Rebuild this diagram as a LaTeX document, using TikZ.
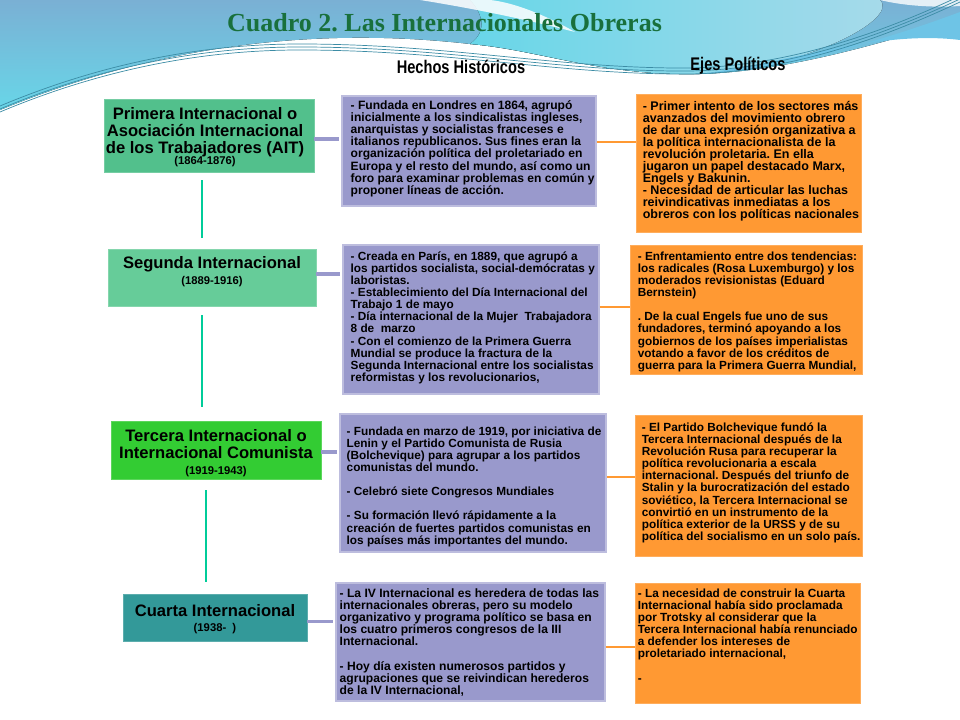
\documentclass[tikz,border=0pt]{standalone}
\usepackage{fontspec}
\setmainfont{Liberation Sans}
\newfontfamily\titlefont{Liberation Serif}
\usetikzlibrary{positioning}
\frenchspacing
\definecolor{primcol}{RGB}{82,192,140}
\definecolor{segcol}{RGB}{102,204,153}
\definecolor{tercol}{RGB}{51,204,51}
\definecolor{cuarcol}{RGB}{51,153,153}
\definecolor{hechocol}{RGB}{153,153,204}
\definecolor{ejecol}{RGB}{255,153,51}
\definecolor{spinecol}{RGB}{0,204,153}
\definecolor{titlecol}{RGB}{25,112,60}
\definecolor{bgsteel}{RGB}{122,176,212}
\definecolor{bgcyan}{RGB}{104,214,232}
\definecolor{bglight}{RGB}{168,218,234}
\definecolor{bgblue}{RGB}{110,196,230}
\definecolor{strandcol}{RGB}{60,140,165}
\begin{document}
\begin{tikzpicture}[x=0.025cm,y=-0.025cm,
  every node/.style={inner sep=0pt},
  intbox/.style={rectangle,draw=#1!80!white,line width=0.5pt,fill=#1},
  hechobox/.style={rectangle,draw=hechocol!65!white,line width=0.8pt,fill=hechocol},
  ejebox/.style={rectangle,draw=ejecol!80!white,line width=0.6pt,fill=ejecol},
  inttext/.style={align=center,anchor=north,font=\bfseries\fontsize{11.8}{11.9}\selectfont},
  bodytext/.style={align=left,anchor=north west,font=\bfseries\fontsize{#1}{8.6}\selectfont},
  bodytext/.default=8.4,
  head/.style={anchor=base,font=\bfseries\fontsize{13}{13}\selectfont},
  spine/.style={draw=spinecol,line width=2pt},
  link/.style={draw=hechocol,line width=2.4pt,shorten >=2pt},
  ejelink/.style={draw=ejecol,line width=1.5pt}]
\useasboundingbox (0,0) rectangle (960,720);
% background waves
\fill[top color=bgsteel,bottom color=bgcyan] (0,0) -- (960,0) -- (960,18)
  .. controls (880,45) and (780,72) .. (700,74)
  .. controls (600,76) and (540,50) .. (470,44)
  .. controls (330,28) and (170,40) .. (0,110) -- cycle;
\fill[left color=bgcyan,right color=bglight] (470,0) -- (880,0)
  .. controls (900,20) and (800,70) .. (700,74)
  .. controls (600,76) and (540,50) .. (470,44)
  .. controls (490,30) and (480,10) .. (470,0) -- cycle;
\fill[bgblue] (960,12) .. controls (880,42) and (780,70) .. (700,74)
  .. controls (790,62) and (880,30) .. (960,40) -- cycle;
\fill[white,opacity=0.85] (420,0) .. controls (470,8) and (520,18) .. (575,32)
  .. controls (540,12) and (510,2) .. (490,0) -- cycle;
\fill[white,opacity=0.8] (880,0) -- (960,0) -- (960,6) .. controls (930,8) and (900,5) .. (880,0) -- cycle;
\foreach \d in {0,3,6}
  \draw[strandcol,line width=0.5pt] (0,112-\d) .. controls (100,70-\d) and (200,50-\d) .. (300,50-\d)
    .. controls (450,50-\d) and (560,75-\d) .. (690,74-\d)
    .. controls (800,72-\d) and (900,30-\d) .. (960,2-\d);
% titles
\node[anchor=base,text=titlecol,font=\titlefont\bfseries\fontsize{18.5}{18.5}\selectfont] (title) at (444.5,31.5) {Cuadro 2. Las Internacionales Obreras};
\node[head] (hhist) at (461,74) {\scalebox{0.8}[1]{Hechos Históricos}};
\node[head] (hejes) at (738,71) {\scalebox{0.8}[1]{Ejes Políticos}};
% internacionales
\node[intbox=primcol,minimum width=5.25cm,minimum height=1.825cm] (prim) at (209,135.5) {};
\node[intbox=segcol,minimum width=5.2cm,minimum height=1.425cm] (seg) at (212,277.5) {};
\node[intbox=tercol,minimum width=5.25cm,minimum height=1.45cm] (terc) at (216,450) {};
\node[intbox=cuarcol,minimum width=4.6cm,minimum height=1.175cm] (cuar) at (215,617.5) {};
\node[inttext] (primtxt) at ([shift={(-4,9)}]prim.north) {Primera Internacional o\\Asociación Internacional\\de los Trabajadores (AIT)\\[-4.1pt]{\fontsize{8}{11.9}\selectfont(1864-1876)}};
\node[inttext] (segtxt) at ([shift={(0,8)}]seg.north) {Segunda Internacional\\[-0.5pt]{\fontsize{8}{11.9}\selectfont(1889-1916)}};
\node[inttext] (tertxt) at ([shift={(0,9)}]terc.north) {Tercera Internacional o\\Internacional Comunista\\[-0.7pt]{\fontsize{8}{11.9}\selectfont(1919-1943)}};
\node[inttext] (cuartxt) at ([shift={(0,11)}]cuar.north) {Cuarta Internacional\\[-1.4pt]{\fontsize{8}{11.9}\selectfont(1938-\ \ )}};
% hechos historicos
\node[hechobox,minimum width=6.35cm,minimum height=2.75cm] (hecho1) at (469,151) {};
\node[hechobox,minimum width=6.4cm,minimum height=3.725cm] (hecho2) at (471,319.5) {};
\node[hechobox,minimum width=6.65cm,minimum height=3.45cm] (hecho3) at (473,483) {};
\node[hechobox,minimum width=6.725cm,minimum height=2.95cm] (hecho4) at (470.5,642) {};
% ejes politicos
\node[ejebox,minimum width=5.625cm,minimum height=3.45cm] (eje1) at (748.5,163) {};
\node[ejebox,minimum width=5.8cm,minimum height=3.225cm] (eje2) at (746,309.5) {};
\node[ejebox,minimum width=5.675cm,minimum height=3.525cm] (eje3) at (748.5,485.5) {};
\node[ejebox,minimum width=5.625cm,minimum height=3.0cm] (eje4) at (747.5,643) {};
% connectors
\draw[spine] ([shift={(-7,8)}]prim.south) -- ([shift={(-10,-11)}]seg.north);
\draw[spine] ([shift={(-10,9)}]seg.south) -- ([shift={(-14,-14)}]terc.north);
\draw[spine] ([shift={(-10,11)}]terc.south) -- ([shift={(-9,-12)}]cuar.north);
\draw[link] ([yshift=-2.5pt]prim.east) -- ([yshift=-2.5pt]prim.east -| hecho1.west);
\draw[link] ([yshift=2.5pt]seg.east) -- ([yshift=2.5pt]seg.east -| hecho2.west);
\draw[link] ([yshift=-1.5pt]terc.east) -- ([yshift=-1.5pt]terc.east -| hecho3.west);
\draw[link] ([yshift=-3pt]cuar.east) -- ([yshift=-3pt]cuar.east -| hecho4.west);
\coordinate (o1) at (616,142);
\coordinate (o2) at (614,307);
\coordinate (o3) at (620,477);
\coordinate (o4) at (620,647);
\draw[ejelink] (o1 -| hecho1.east) -- (o1 -| eje1.west);
\draw[ejelink] (o2 -| hecho2.east) -- (o2 -| eje2.west);
\draw[ejelink] (o3 -| hecho3.east) -- (o3 -| eje3.west);
\draw[ejelink] (o4 -| hecho4.east) -- (o4 -| eje4.west);
% texts
\node[bodytext=8.6] (hecho1txt) at ([shift={(9,5)}]hecho1.north west) {- Fundada en Londres en 1864, agrupó\\inicialmente a los sindicalistas ingleses,\\anarquistas y socialistas franceses e\\italianos republicanos. Sus fines eran la\\organización política del proletariado en\\Europa y el resto del mundo, así como un\\foro para examinar problemas en común y\\proponer líneas de acción.};
\node[bodytext] (hecho2txt) at ([shift={(8,7)}]hecho2.north west) {- Creada en París, en 1889, que agrupó a\\los partidos socialista, social-demócratas y\\laboristas.\\- Establecimiento del Día Internacional del\\Trabajo 1 de mayo\\- Día internacional de la Mujer\ \ Trabajadora\\8 de\ \ marzo\\- Con el comienzo de la Primera Guerra\\Mundial se produce la fractura de la\\Segunda Internacional entre los socialistas\\reformistas y los revolucionarios,};
\node[bodytext] (hecho3txt) at ([shift={(7,13)}]hecho3.north west) {- Fundada en marzo de 1919, por iniciativa de\\Lenin y el Partido Comunista de Rusia\\(Bolchevique) para agrupar a los partidos\\comunistas del mundo.\\[8.6pt]- Celebró siete Congresos Mundiales\\[8.6pt]- Su formación llevó rápidamente a la\\creación de fuertes partidos comunistas en\\los países más importantes del mundo.};
\node[bodytext=8.6] (hecho4txt) at ([shift={(4,6)}]hecho4.north west) {- La IV Internacional es heredera de todas las\\internacionales obreras, pero su modelo\\organizativo y programa político se basa en\\los cuatro primeros congresos de la III\\Internacional.\\[8.6pt]- Hoy día existen numerosos partidos y\\agrupaciones que se reivindican herederos\\de la IV Internacional,};
\node[bodytext=8.9] (eje1txt) at ([shift={(7,7)}]eje1.north west) {- Primer intento de los sectores más\\avanzados del movimiento obrero\\de dar una expresión organizativa a\\la política internacionalista de la\\revolución proletaria. En ella\\jugaron un papel destacado Marx,\\Engels y Bakunin.\\- Necesidad de articular las luchas\\reivindicativas inmediatas a los\\obreros con los políticas nacionales};
\node[bodytext] (eje2txt) at ([shift={(8,7)}]eje2.north west) {- Enfrentamiento entre dos tendencias:\\los radicales (Rosa Luxemburgo) y los\\moderados revisionistas (Eduard\\Bernstein)\\[8.6pt]. De la cual Engels fue uno de sus\\fundadores, terminó apoyando a los\\gobiernos de los países imperialistas\\votando a favor de los créditos de\\guerra para la Primera Guerra Mundial,};
\node[bodytext] (eje3txt) at ([shift={(7,8)}]eje3.north west) {- El Partido Bolchevique fundó la\\Tercera Internacional después de la\\Revolución Rusa para recuperar la\\política revolucionaria a escala\\internacional. Después del triunfo de\\Stalin y la burocratización del estado\\soviético, la Tercera Internacional se\\convirtió en un instrumento de la\\política exterior de la URSS y de su\\política del socialismo en un solo país.};
\node[bodytext] (eje4txt) at ([shift={(3,6)}]eje4.north west) {- La necesidad de construir la Cuarta\\Internacional había sido proclamada\\por Trotsky al considerar que la\\Tercera Internacional había renunciado\\a defender los intereses de\\proletariado internacional,\\[8.6pt]-};
\end{tikzpicture}
\end{document}
